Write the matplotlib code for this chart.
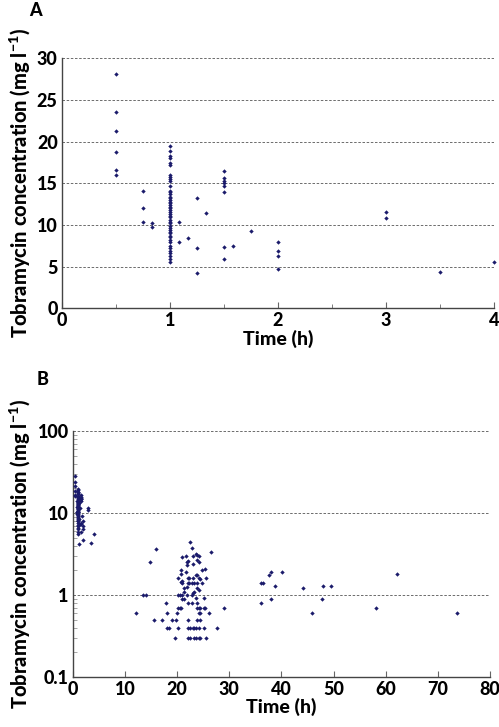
"""
   tobramycin concentration vs time: (A) first 4 h, linear; (B) whole course, log scale
"""
import matplotlib
matplotlib.use('Agg')
from matplotlib import pyplot as plt
from matplotlib.ticker import MultipleLocator, LogLocator, FixedLocator
import numpy as np

plt.rcParams['font.family'] = ['Lato', 'DejaVu Sans']
plt.rcParams['mathtext.fontset'] = 'custom'
plt.rcParams['mathtext.bf'] = 'Lato:black'
plt.rcParams['mathtext.rm'] = 'Lato:black'

# early samples (h, mg/l) -- shown in both panels
early_t = [0.5]*6 + [0.75]*3 + [0.83]*2 + [1.0]*46 + [1.08]*2 + [1.17] + [1.25]*3 + [1.33] \
    + [1.5]*8 + [1.58] + [1.75] + [2.0]*4 + [3.0]*2 + [3.5] + [4.0]
early_c = [28.1, 23.6, 21.3, 18.7, 16.6, 16.0,
           14.1, 12.0, 10.4,
           10.2, 9.8,
           19.5, 18.9, 18.3, 18.0, 17.4, 17.2, 16.0, 15.7, 15.5, 15.3, 14.7, 14.1,
           13.9, 13.7, 13.4, 13.2, 13.0, 12.8, 12.6, 12.4, 12.2, 12.0, 11.8, 11.5,
           11.3, 11.1, 10.9, 10.6, 10.4, 10.2, 9.9, 9.6, 9.4, 9.2, 9.0, 8.7, 8.5,
           8.2, 7.9, 7.5, 7.2, 6.9, 6.6, 6.3, 5.9, 5.6,
           10.4, 7.9,
           8.4,
           13.2, 7.2, 4.2,
           11.4,
           16.5, 15.6, 15.3, 15.0, 14.7, 13.9, 7.4, 5.9,
           7.5,
           9.3,
           7.9, 6.9, 6.3, 4.7,
           11.5, 10.8,
           4.3,
           5.6]

# later samples (h, mg/l) -- panel B only
late_t = [12.1, 13.4, 14.1, 14.8, 15.6, 16.0, 17.1, 17.8, 18.1, 18.1, 18.5, 19.1, 19.6,
          19.8, 19.9,
          20.1, 20.1, 20.1, 20.1, 20.6, 20.6, 20.8, 20.8, 20.8, 20.8,
          21.0, 21.0, 21.0, 21.0, 21.0, 21.4, 21.4, 21.4, 21.7, 21.7,
          21.9, 21.9, 21.9, 21.9, 22.0, 22.0, 22.0, 22.0, 22.0, 22.0, 22.0,
          22.2, 22.2, 22.4, 22.4, 22.4, 22.8, 22.8, 22.8, 22.8,
          23.0, 23.0, 23.0, 23.0, 23.0, 23.3, 23.3, 23.3, 23.3,
          23.6, 23.6, 23.6, 23.6, 23.6,
          23.9, 23.9, 23.9, 23.9, 23.9, 23.9, 23.9, 23.9,
          24.1, 24.1, 24.1, 24.1, 24.1, 24.1, 24.1, 24.1,
          24.4, 24.4, 24.4, 24.4, 24.4, 24.7, 24.7,
          25.1, 25.1, 25.1, 25.4, 25.4, 25.6, 25.6, 26.1, 26.5, 27.7, 29.0,
          36.0, 36.0, 36.5, 37.6, 38.0, 38.0, 38.8, 40.1, 44.1, 45.8, 47.8, 48.0,
          49.5, 58.1, 62.1, 73.7]
late_c = [0.6, 1.0, 1.0, 2.5, 0.5, 3.6, 0.5, 0.8, 0.6, 0.4, 0.4, 0.5, 0.3,
          0.5, 0.6,
          1.6, 1.0, 0.7, 0.4, 1.0, 0.7, 2.0, 1.8, 1.45, 0.7,
          2.9, 1.5, 1.4, 1.0, 0.9, 1.2, 1.1, 0.9, 3.0, 1.9,
          2.5, 2.3, 1.25, 1.0, 2.6, 1.6, 1.4, 0.8, 0.5, 0.4, 0.3,
          1.6, 1.4, 4.4, 0.4, 0.3, 3.7, 1.4, 1.0, 0.8,
          3.0, 2.4, 1.6, 1.05, 0.4, 1.4, 1.1, 0.4, 0.3,
          3.2, 1.75, 0.93, 0.4, 0.3,
          3.1, 2.7, 1.75, 1.4, 1.2, 0.8, 0.7, 0.5,
          3.0, 2.5, 1.6, 1.15, 0.7, 0.6, 0.4, 0.3,
          1.55, 0.7, 0.6, 0.5, 0.3, 2.0, 1.4,
          0.92, 0.7, 0.4, 2.1, 0.7, 1.6, 0.3, 0.6, 3.3, 0.4, 0.7,
          0.8, 1.4, 1.4, 1.75, 1.9, 0.9, 1.3, 1.9, 1.2, 0.6, 0.9, 1.3,
          1.3, 0.7, 1.8, 0.6]

ylab = r'Tobramycin concentration (mg l$^{\mathbf{-1}}$)'
dot = dict(marker='D', s=5, color='#1b1b6b', linewidths=0, zorder=3, clip_on=False)
W = 'black'

fig = plt.figure(figsize=(4.99, 7.27), dpi=100)

# ---- panel A ----
ax1 = fig.add_axes([0.124, 0.576, 0.866, 0.344])
ax1.scatter(early_t, early_c, **dot)
ax1.set_xlim(0, 4)
ax1.set_ylim(0, 30)
ax1.xaxis.set_major_locator(MultipleLocator(1))
ax1.xaxis.set_minor_locator(MultipleLocator(0.5))
ax1.yaxis.set_major_locator(MultipleLocator(5))
for v in range(5, 31, 5):
    ax1.axhline(v, color='#555555', lw=0.6, ls=(0, (3, 2)), zorder=1)
ax1.set_xlabel('Time (h)', fontsize=14, fontweight=W, labelpad=0)
ax1.set_ylabel(ylab, fontsize=14.5, fontweight=W, labelpad=3)
ax1.text(-0.06, 1.19, 'A', transform=ax1.transAxes, fontsize=13, fontweight=W,
         ha='center', va='center')

# ---- panel B ----
ax2 = fig.add_axes([0.146, 0.069, 0.836, 0.338])
ax2.scatter(early_t + late_t, early_c + late_c, **dot)
ax2.set_yscale('log')
ax2.set_xlim(0, 80)
ax2.set_ylim(0.1, 100)
ax2.xaxis.set_major_locator(MultipleLocator(10))
ax2.yaxis.set_major_locator(FixedLocator([0.1, 1, 10, 100]))
ax2.yaxis.set_major_formatter(plt.FuncFormatter(lambda v, p: '%g' % v))
ax2.yaxis.set_minor_locator(LogLocator(base=10, subs=np.arange(2, 10)))
for v in [1, 10, 100]:
    ax2.axhline(v, color='#555555', lw=0.6, ls=(0, (3, 2)), zorder=1)
ax2.set_xlabel('Time (h)', fontsize=14, fontweight=W, labelpad=0)
ax2.set_ylabel(ylab, fontsize=14.5, fontweight=W, labelpad=3)
ax2.text(-0.072, 1.21, 'B', transform=ax2.transAxes, fontsize=13, fontweight=W,
         ha='center', va='center')

for ax in (ax1, ax2):
    for s in ('top', 'right'):
        ax.spines[s].set_visible(False)
    for s in ('left', 'bottom'):
        ax.spines[s].set_color('#444444')
        ax.spines[s].set_linewidth(1.0)
    ax.tick_params(which='both', direction='in', color='#666666', labelsize=13)
    ax.tick_params(which='major', length=4, pad=3)
    ax.tick_params(which='minor', length=3)
    ax.tick_params(axis='y', which='major', length=0)
    for lbl in ax.get_xticklabels() + ax.get_yticklabels():
        lbl.set_fontweight(W)
ax2.tick_params(axis='y', which='minor', length=3, color='#999999')

fig.savefig('out.png', dpi=100)
